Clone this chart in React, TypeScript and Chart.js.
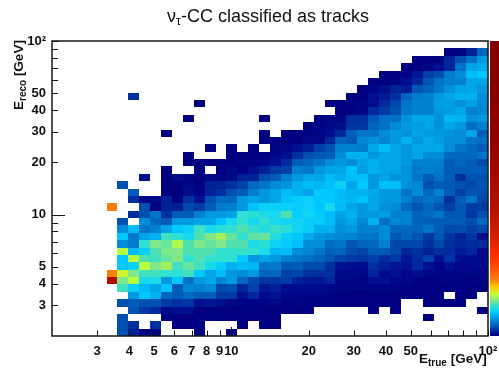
import React, { useEffect, useRef } from "react";
import { Chart, registerables } from "chart.js";

Chart.register(...registerables);

const FONT = '"Liberation Sans", Arial, sans-serif';
const binCount = 40;
const axisMin = 2;
const axisMax = 100;
const firstColumn = 5;

const xTickValues = [3, 4, 5, 6, 7, 8, 9, 10, 20, 30, 40, 50, 60, 70, 80, 90, 100];
const yTickValues = [3, 4, 5, 6, 7, 8, 9, 10, 20, 30, 40, 50, 60, 70, 80, 90, 100];
const xTickLabels: Record<number, string> = { 3: "3", 4: "4", 5: "5", 6: "6", 7: "7", 8: "8", 9: "9", 10: "10", 20: "20", 30: "30", 40: "40", 50: "50", 100: "10²" };
const yTickLabels: Record<number, string> = { 3: "3", 4: "4", 5: "5", 10: "10", 20: "20", 30: "30", 40: "40", 50: "50", 100: "10²" };

// Bin contents by E_reco row (bottom to top); each row lists E_true bins 5..39, 0 = empty.
const r00 = [0,4,2.5,1,1.3, 0,0,0,1,0, 0,1,0,0,0, 0,0,0,0,0, 0,0,0,0,0, 0,0,0,0,0, 0,0,0,0,0];
const r01 = [0,4,3,0,3, 0,1,1,1,0, 0,0,1,0,1, 1,0,0,0,0, 0,0,0,0,0, 0,0,0,0,0, 0,0,0,0,0];
const r02 = [0,4,0,0,0, 1,1,1,1.2,1.2, 1,1,1,1,1, 1,0,0,0,0, 0,0,0,0,0, 0,0,0,0,1, 0,0,0,0,0];
const r03 = [0,0,4.2,3.3,2.8, 1.5,2,1.8,1,1, 1,1,1,1,1, 1,1,1,1,0, 0,0,0,0,1, 0,1,0,0,0, 0,0,0,0,1];
const r04 = [0,4,4.5,4,4, 3.3,3,3.2,2,2.2, 1.8,1.5,1.2,1.2,1.2, 1.3,1,1.3,1.1,1.1, 1.1,1,1,1,1, 1,1,0,0,1, 1,1,1,0,0];
const r05 = [0,0,7,9,8, 5,4.5,5,4.5,4.5, 3.3,3.3,2,2.7,1.6, 2.1,1.5,1.4,1.3,1.3, 1.3,1,1,1,1, 1,1,1,1,1, 1,0,1,1,0];
const r06 = [0,11.5,9.5,8.5,7.5, 8.8,4.5,6.3,6,6.3, 3.8,4,2.7,3.6,2.2, 2.5,1.6,1.8,1.7,1.7, 1.5,1.3,1.2,1.3,1.2, 1.2,1.2,1.1,1,1, 1,1,1,1,1];
const r07 = [46,13,15,10,10.3, 7,9,5.5,7,7.5, 6.2,7,5,3.8,3.2, 3.2,3.4,2.5,2.2,2.2, 2.7,1.3,1.3,1.2,1.8, 2,1.3,1.5,1.2,1, 1.2,1.2,1.1,1.2,1.2];
const r08 = [20,15.5,13,11.5,11.5, 11,10.8,11.5,9,7.5, 8.5,7,6.6,7,4.8, 5,3.5,3.7,3,3, 3,1.5,1.5,1.5,2.7, 1.7,2,1.3,1.8,1.5, 1.4,1.3,1.3,1.5,1.3];
const r09 = [0,9,9.5,15,13, 14,11.5,12.5,11.5,10, 9.3,8,8.5,8.2,5.5, 5.7,4.3,4.5,3.8,3.8, 3,2,1.8,1.8,3, 2.5,2.2,2,2.8,2, 1.2,2,1.5,1.7,1.7];
const r10 = [0,9,15,12,11.5, 12.5,13,11,12,11, 11,11,9.2,7,7.5, 7,6,5.7,5.3,4.8, 4.2,3.6,3.3,3.2,3.5, 2.8,3.3,2.2,2.8,3.5, 2,3.2,1.8,1.8,1.7];
const r11 = [0,15,8.5,9.5,12, 13,13,12,12,12, 11,11,11.3,11,10.2, 8.3,8.6,6.5,6.2,5.6, 4.7,4.8,3.9,3.6,4.5, 4.5,3.7,2.7,3,2.5, 3,2.8,2.3,2.7,1.5];
const r12 = [0,6.5,5.8,11,13, 12.5,14.5,12,13,12.5, 13,12,12,10.3,10.8, 9.5,9.2,8.7,6.5,6.5, 5.2,5.6,4.3,4.8,5, 6,3.7,3.7,3.7,3, 3.7,3,2.7,2.8,2.8];
const r13 = [0,9,5.8,7.5,8, 11.5,11,10,12,13, 14,12.5,11,12.3,12.5, 10.5,9.3,9,7.7,7, 6.5,6.3,6.2,5.5,5.5, 6.5,4.2,4.8,4.2,3.2, 4.3,3.2,2.5,3.2,1.8];
const r14 = [0,6.5,8.5,5.5,6, 7.5,9,9.5,11.5,10, 10.8,11,12,11,10.5, 11.3,10.8,9.8,9.3,8, 8,6.7,7,6,6, 6.5,5,5,4.8,5.5, 4.5,3.8,4,3.5,3.8];
const r15 = [0,4,0,6.5,5, 4.5,7,7,7.5,7.5, 8.8,10,11,10,11, 10,9.7,9.8,9.3,9.3, 8.6,7,7.5,6.3,8, 5.3,6.3,6,4.8,4.5, 4.5,4.5,4.5,4,5];
const r16 = [0,0,3,4,5.5, 3,4.5,4.5,6,7, 7,7.5,11,10.8,10.3, 10,12,9.3,9.8,9.2, 8.5,7.5,8,7,7, 7.2,6,6,4.8,5, 5.5,4.2,4.3,3.2,4];
const r17 = [20,0,0,4,1, 2.5,2.5,3.8,3.4,4.5, 5.8,6,7,8.7,9.5, 9.5,9.5,9.3,9.5,9, 10,8.5,7.5,7,7.5, 6.7,6.5,5,4.2,5, 4.2,3.5,4.3,3.3,3.3];
const r18 = [0,0,3,1.5,1.5, 2.5,1.2,3,2,4, 5,5,7,7.5,7, 7.5,8.8,9.2,9.5,9, 9,8.5,8.2,8.7,7.5, 7,7,6,5,5.5, 5,3,4.5,5.5,3.7];
const r19 = [0,0,4.5,0,0, 1,1,1.8,1.3,2.5, 3,4,4.5,5.8,7, 7.5,8.5,8,7.5,9.2, 9,8.5,8.2,8,7.7, 7,7,5.5,6.5,5, 6,4.5,3.5,4.2,4];
const r20 = [0,4,0,0,0, 1,1,1.5,1.2,2.5, 2.5,3,3.5,5,5.5, 6.5,6.8,8,8.5,8.2, 8.7,9.5,7.5,9,7, 8.5,8.5,6.7,6.3,4, 4.5,4.3,4,3.8,4.2];
const r21 = [0,0,0,2,0, 1,1.8,1.3,1,1.5, 1.3,1.5,2.5,2.5,4, 4.5,6,7,7.7,7.5, 8.5,8,8.5,8.7,7, 7.5,6.8,6.8,5.5,4.5, 5.5,4.5,3,4.2,4];
const r22 = [0,0,0,0,0, 1,0,0,1,0, 1,1.5,1,2,2.5, 3.3,3.5,6,5.7,7, 7.5,7.5,8.8,7.3,8, 7.5,7.5,6.7,5.7,6, 5.7,4.5,4.5,4.5,4.5];
const r23 = [0,0,0,0,0, 0,0,1,1,1, 1,1,1.3,1.3,1.5, 2,2.8,4.5,5,5.5, 6.5,7,6.5,7.5,8, 7.5,7.5,7,6,6, 6,4.5,5,4.5,3.7];
const r24 = [0,0,0,0,0, 0,0,1,0,0, 0,1,1,1,1, 1.5,2,3,4,4.3, 4.5,6.5,8,8,7, 7.5,7.5,7,7.5,6.5, 6.5,5,5,5,5.5];
const r25 = [0,0,0,0,0, 0,0,0,0,1, 0,1,0,1,0, 1.2,1.5,2,2.5,3.5, 4,6,6,5.8,7.5, 8.5,7.5,7,7.5,7.5, 7.5,6.5,5.5,5,4.5];
const r26 = [0,0,0,0,0, 0,0,0,0,0, 0,0,0,0,1, 1,1,1,1.5,1.4, 2.7,4.8,4.3,6.3,6.8, 6.2,7,8,7,7.7, 7.3,6.5,6.5,5.5,5.2];
const r27 = [0,0,0,0,0, 1,0,0,0,0, 0,0,0,0,1, 0,1,1,1.2,1.4, 1.8,2.7,4.6,5.5,5.5, 6.5,7,6.7,7.5,7.2, 7,6.7,6.5,7.5,4.5];
const r28 = [0,0,0,0,0, 0,0,0,0,0, 0,0,0,0,0, 0,0,0,1,1.3, 1.5,1.8,3.1,3.2,4.8, 5.3,6.4,7.1,7.2,7.5, 6.8,7.5,7,5.2,6];
const r29 = [0,0,0,0,0, 0,0,1,0,0, 0,0,0,0,1, 0,0,0,0,1, 1.3,1.3,3,3,4.3, 5.3,5.3,6.7,7.6,7.6, 6.8,8.3,8,6.7,7];
const r30 = [0,0,0,0,0, 0,0,0,0,0, 0,0,0,0,0, 0,0,0,0,0, 0,1,1.1,1.4,2.8, 3.3,4,5.7,6.1,6.1, 7,7.2,7.5,6,6.3];
const r31 = [0,0,0,0,0, 0,0,0,1,0, 0,0,0,0,0, 0,0,0,0,0, 1,1,1.2,1.2,1.8, 2.8,3.7,5.5,6,6, 7.3,7.3,6.8,7.3,6.6];
const r32 = [0,0,3,0,0, 0,0,0,0,0, 0,0,0,0,0, 0,0,0,0,0, 0,0,1,1,1.8, 2.3,3,4.8,5.8,6, 7,7.5,8,8,6.5];
const r33 = [0,0,0,0,0, 0,0,0,0,0, 0,0,0,0,0, 0,0,0,0,0, 0,0,0,1,1.2, 1.8,2.5,2.3,4.3,4.8, 5.7,6.8,7.5,7.5,7];
const r34 = [0,0,0,0,0, 0,0,0,0,0, 0,0,0,0,0, 0,0,0,0,0, 0,0,0,0,1, 1,1.2,1.8,2.7,4.2, 5.5,6,6,7.5,7.5];
const r35 = [0,0,0,0,0, 0,0,0,0,0, 0,0,0,0,0, 0,0,0,0,0, 0,0,0,0,0, 1,1,1.3,2.2,3.5, 4,5.8,6.5,8.5,9];
const r36 = [0,0,0,0,0, 0,0,0,0,0, 0,0,0,0,0, 0,0,0,0,0, 0,0,0,0,0, 0,0,1,1,1.3, 2,2.7,5.5,7.5,7.7];
const r37 = [0,0,0,0,0, 0,0,0,0,0, 0,0,0,0,0, 0,0,0,0,0, 0,0,0,0,0, 0,0,0,1,1, 1,2.7,4,5.3,7];
const r38 = [0,0,0,0,0, 0,0,0,0,0, 0,0,0,0,0, 0,0,0,0,0, 0,0,0,0,0, 0,0,0,0,0, 0,1,1.3,2.5,5];
const binRows = [r00,r01,r02,r03,r04,r05,r06,r07,r08,r09,r10,r11,r12,r13,r14,r15,r16,r17,r18,r19,r20,r21,r22,r23,r24,r25,r26,r27,r28,r29,r30,r31,r32,r33,r34,r35,r36,r37,r38];

const zMax = 101;
const paletteLevels = [1,2,3,4,5,6,7,8,9,10,11,12,13,14,15,16,18,20,24,28,35,46,69,101];
const paletteColors = ["#000080","#001090","#0030a0","#0050b0","#0068c0","#0080d0","#0098e0","#00b0f0","#00c8ff","#18d8f0","#30e0d0","#50e0b0","#80e888","#a0f060","#b8ff40","#e0e820","#ffc000","#f88010","#ff5000","#ff3000","#d02000","#b01000","#900000","#800000"];

function colorFor(z: number): string {
  let i = 0;
  while (i < paletteLevels.length - 2 && z > paletteLevels[i + 1]) i++;
  const a = paletteColors[i], b = paletteColors[i + 1];
  const t = Math.max(0, Math.min(1, (z - paletteLevels[i]) / (paletteLevels[i + 1] - paletteLevels[i])));
  const ch = (s: string, k: number) => parseInt(s.substr(1 + k * 2, 2), 16);
  const mix = [0, 1, 2].map((k) => Math.round(ch(a, k) + (ch(b, k) - ch(a, k)) * t));
  return `rgb(${mix[0]},${mix[1]},${mix[2]})`;
}

const binEdge = (i: number) => axisMin * Math.pow(axisMax / axisMin, i / binCount);

const heatPoints = binRows.flatMap((row, r) =>
  row.flatMap((z, k) => (z > 0 ? [{ x: Math.sqrt(binEdge(k + firstColumn) * binEdge(k + firstColumn + 1)), y: Math.sqrt(binEdge(r) * binEdge(r + 1)), z, col: k + firstColumn, row: r }] : []))
);

function drawRuns(ctx: CanvasRenderingContext2D, runs: { t: string; size: number; dy: number; bold?: boolean }[], x: number, y: number) {
  let cx = x;
  for (const run of runs) {
    ctx.font = `${run.bold === false ? "" : "bold "}${run.size}px ${FONT}`;
    ctx.fillText(run.t, cx, y + run.dy);
    cx += ctx.measureText(run.t).width;
  }
}

const noPadding = (s: any) => {
  s.paddingLeft = 0;
  s.paddingRight = 0;
  s.paddingTop = 0;
  s.paddingBottom = 0;
};

const heatPlugin = {
  id: "heat",
  beforeDatasetsDraw(chart: any) {
    const { ctx, scales, chartArea } = chart;
    const xs = scales.x, ys = scales.y;
    ctx.save();
    for (const p of heatPoints) {
      const l = Math.round(xs.getPixelForValue(binEdge(p.col)));
      const r = Math.round(xs.getPixelForValue(binEdge(p.col + 1)));
      const b = Math.round(ys.getPixelForValue(binEdge(p.row)));
      const t = Math.round(ys.getPixelForValue(binEdge(p.row + 1)));
      ctx.fillStyle = colorFor(p.z);
      ctx.fillRect(l, t, r - l, b - t);
    }
    // colour bar, same palette as the cells
    const barLeft = chartArea.right + 2;
    const h = chartArea.bottom - chartArea.top;
    for (let i = 0; i < h; i++) {
      ctx.fillStyle = colorFor(1 + ((zMax - 1) * (h - i - 0.5)) / h);
      ctx.fillRect(barLeft, chartArea.top + i, 9, 1);
    }
    ctx.restore();
  },
  afterDatasetsDraw(chart: any) {
    const { ctx, scales, chartArea } = chart;
    const { left, right, top, bottom } = chartArea;
    ctx.save();
    ctx.strokeStyle = "#151515";
    ctx.lineWidth = 1;
    ctx.beginPath();
    for (const v of xTickValues) {
      const px = Math.round(scales.x.getPixelForValue(v)) + 0.5;
      const len = v === 10 ? 9 : 5.5;
      ctx.moveTo(px, bottom);
      ctx.lineTo(px, bottom - len);
    }
    for (const v of yTickValues) {
      const py = Math.round(scales.y.getPixelForValue(v)) + 0.5;
      const len = v === 10 ? 13 : 6;
      ctx.moveTo(left, py);
      ctx.lineTo(left + len, py);
    }
    ctx.stroke();
    ctx.lineWidth = 1.5;
    ctx.strokeRect(left, top, right - left, bottom - top);
    // titles with subscripts
    ctx.fillStyle = "#111";
    ctx.textBaseline = "alphabetic";
    ctx.textAlign = "left";
    drawRuns(ctx, [
      { t: "ν", size: 18, dy: 0, bold: false },
      { t: "τ", size: 12.5, dy: 3, bold: false },
      { t: "-CC classified as tracks", size: 18, dy: 0, bold: false },
    ], 167, 22);
    drawRuns(ctx, [
      { t: "E", size: 13.5, dy: 0 },
      { t: "true", size: 10, dy: 3 },
      { t: " [GeV]", size: 13.5, dy: 0 },
    ], 419, 363);
    ctx.translate(23, 110);
    ctx.rotate(-Math.PI / 2);
    drawRuns(ctx, [
      { t: "E", size: 13.5, dy: 0 },
      { t: "reco", size: 10, dy: 3 },
      { t: " [GeV]", size: 13.5, dy: 0 },
    ], 0, 0);
    ctx.restore();
  },
};

export default function App() {
  const ref = useRef<HTMLCanvasElement>(null);
  useEffect(() => {
    const chart = new Chart(ref.current as HTMLCanvasElement, {
      type: "scatter",
      data: {
        datasets: [{ label: "nu_tau CC as tracks", data: heatPoints, pointRadius: 0, pointHoverRadius: 0, showLine: false }],
      },
      options: {
        animation: false,
        responsive: false,
        layout: { padding: { top: 41, right: 11, left: 0, bottom: 0 } },
        plugins: { legend: { display: false }, tooltip: { enabled: false }, title: { display: false } },
        scales: {
          x: {
            type: "logarithmic",
            min: axisMin,
            max: axisMax,
            border: { display: false },
            grid: { display: false, drawTicks: false },
            afterBuildTicks: (s: any) => { s.ticks = xTickValues.map((value) => ({ value })); },
            afterFit: (s: any) => { s.height = 38; noPadding(s); },
            ticks: {
              autoSkip: false,
              maxRotation: 0,
              minRotation: 0,
              padding: 8,
              color: "#111",
              font: { family: FONT, size: 13, weight: "bold" },
              callback: (v: any) => xTickLabels[Number(v)] ?? "",
            },
          },
          y: {
            type: "logarithmic",
            min: axisMin,
            max: axisMax,
            border: { display: false },
            grid: { display: false, drawTicks: false },
            afterBuildTicks: (s: any) => { s.ticks = yTickValues.map((value) => ({ value })); },
            afterFit: (s: any) => { s.width = 52; noPadding(s); },
            ticks: {
              autoSkip: false,
              padding: 6,
              color: "#111",
              font: { family: FONT, size: 13, weight: "bold" },
              callback: (v: any) => yTickLabels[Number(v)] ?? "",
            },
          },
        },
      } as any,
      plugins: [heatPlugin],
    });
    return () => chart.destroy();
  }, []);
  return (
    <div style={{ position: "absolute", left: 0, top: 0, width: 499, height: 374, background: "#fff" }}>
      <canvas ref={ref} width={499} height={374} style={{ display: "block", width: 499, height: 374 }} />
    </div>
  );
}
